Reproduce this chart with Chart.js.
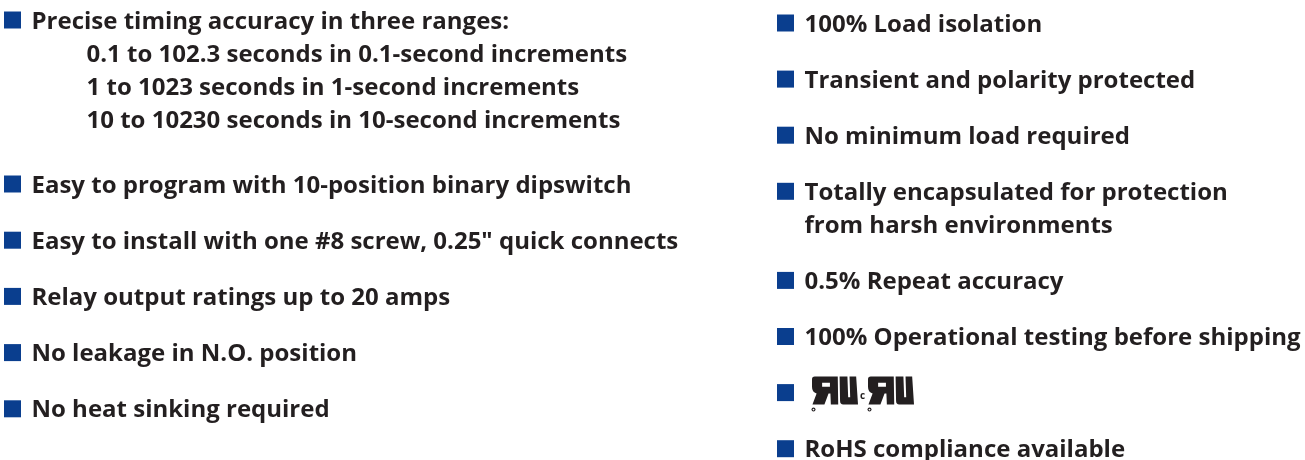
<!DOCTYPE html>
<html>
<head>
<meta charset="utf-8">
<script src="https://cdn.jsdelivr.net/npm/chart.js@4/dist/chart.umd.min.js"></script>
<style>
  html, body { margin: 0; padding: 0; background: #ffffff; }
  #wrap { width: 1305px; height: 460px; }
</style>
</head>
<body>
<div id="wrap"><canvas id="c" width="1305" height="460"></canvas></div>
<script>
// ---- Content (data) ----
const leftFeatures = [
  "Precise timing accuracy in three ranges:",
  "Easy to program with 10-position binary dipswitch",
  "Easy to install with one #8 screw, 0.25\" quick connects",
  "Relay output ratings up to 20 amps",
  "No leakage in N.O. position",
  "No heat sinking required"
];
const timingRanges = [
  "0.1 to 102.3 seconds in 0.1-second increments",
  "1 to 1023 seconds in 1-second increments",
  "10 to 10230 seconds in 10-second increments"
];
const rightFeatures = [
  ["100% Load isolation"],
  ["Transient and polarity protected"],
  ["No minimum load required"],
  ["Totally encapsulated for protection", "from harsh environments"],
  ["0.5% Repeat accuracy"],
  ["100% Operational testing before shipping"],
  null, // UL / cUL recognized component marks
  ["RoHS compliance available"]
];
const certPrefix = ["", "c"];

// ---- Styling / layout ----
const W = 1305, H = 460;
const BLUE = "#0a3e8e";
const INK = "#231f20";
const FONT = '700 24px "Open Sans", "Noto Sans", sans-serif';
const COL_BULLET = [12.5, 785.5];
const TEXT_GAP = 19;
const SUB_INDENT = 74;
const TOPS = [20, 23];         // first bullet centre per column
const ITEM_STEP = [56.2, 56.1];
const LINE_STEP = 33;
const AFTER_SUB = 65;
const BULLET = 17;
const BASE_OFF = 8.5;          // text baseline below bullet centre

// Build layout from content
const bullets = [];
(function layout() {
  let y = TOPS[0];
  leftFeatures.forEach((t, i) => {
    const item = { col: 0, cy: y, lines: [t], sub: [] };
    let last = y;
    if (i === 0) {
      timingRanges.forEach((s, k) => { last = y + (k + 1) * LINE_STEP; item.sub.push({ text: s, cy: last }); });
    }
    bullets.push(item);
    y = item.sub.length ? last + AFTER_SUB : y + ITEM_STEP[0];
  });
  y = TOPS[1];
  rightFeatures.forEach((lines) => {
    bullets.push({ col: 1, cy: y, lines: lines, sub: [] });
    const n = lines ? lines.length : 1;
    y += (n - 1) * LINE_STEP + ITEM_STEP[1];
  });
})();

// UL "recognized component" mark, drawn on a 50x30 grid
function drawUL(ctx, x, y, w, h, prefix) {
  ctx.save();
  ctx.fillStyle = INK;
  if (prefix) {
    ctx.font = '700 10px "Open Sans", sans-serif';
    ctx.fillText(prefix, x - 8, y + h - 6);
  }
  ctx.translate(x, y);
  ctx.scale(w / 50, h / 30);
  // reversed R (heavy)
  ctx.beginPath();
  ctx.moveTo(3, 0); ctx.lineTo(28, 0); ctx.lineTo(28.5, 30); ctx.lineTo(20.5, 30);
  ctx.lineTo(20, 18); ctx.lineTo(18, 18); ctx.lineTo(13.5, 30); ctx.lineTo(0.5, 30);
  ctx.lineTo(5, 18); ctx.quadraticCurveTo(0, 17, 0, 11);
  ctx.lineTo(0, 3); ctx.quadraticCurveTo(0, 0, 3, 0); ctx.closePath();
  ctx.moveTo(11, 6.5); ctx.lineTo(11, 11); ctx.lineTo(19.5, 11); ctx.lineTo(19.5, 6.5); ctx.closePath();
  ctx.fill('evenodd');
  // U (heavy, narrow slot)
  ctx.beginPath();
  ctx.moveTo(30, 0); ctx.lineTo(38.5, 0); ctx.lineTo(39.3, 22); ctx.lineTo(41.5, 22);
  ctx.lineTo(40.8, 0); ctx.lineTo(48, 0); ctx.lineTo(50, 30); ctx.lineTo(34, 30);
  ctx.quadraticCurveTo(30.5, 30, 30.5, 26); ctx.closePath();
  ctx.fill();
  ctx.restore();
  // registered mark
  ctx.save();
  ctx.fillStyle = INK;
  ctx.beginPath(); ctx.arc(x + 1.5, y + h + 5, 2, 0, Math.PI * 2); ctx.fill();
  ctx.fillStyle = '#fff';
  ctx.beginPath(); ctx.arc(x + 1.5, y + h + 5, 0.9, 0, Math.PI * 2); ctx.fill();
  ctx.restore();
}

const textPlugin = {
  id: 'featureText',
  afterDatasetsDraw(chart) {
    const ctx = chart.ctx;
    const meta = chart.getDatasetMeta(0);
    const ys = chart.scales.y;
    ctx.save();
    ctx.fillStyle = INK;
    ctx.font = FONT;
    ctx.textBaseline = 'alphabetic';
    meta.data.forEach((pt, i) => {
      const item = bullets[i];
      const tx = pt.x + TEXT_GAP;
      if (item.lines) {
        item.lines.forEach((ln, k) => ctx.fillText(ln, tx, ys.getPixelForValue(item.cy + k * LINE_STEP) + BASE_OFF));
      } else {
        drawUL(ctx, tx + 7.5, pt.y - 16, 46, 28, certPrefix[0]);
        drawUL(ctx, tx + 63.5, pt.y - 16, 46, 28, certPrefix[1]);
        ctx.fillStyle = INK; ctx.font = FONT;
      }
      item.sub.forEach((s) => ctx.fillText(s.text, pt.x + SUB_INDENT, ys.getPixelForValue(s.cy) + BASE_OFF));
    });
    ctx.restore();
  }
};

function build() {
  new Chart(document.getElementById('c'), {
    type: 'scatter',
    data: {
      datasets: [{
        data: bullets.map(b => ({ x: COL_BULLET[b.col], y: b.cy })),
        pointStyle: 'rect',
        pointRadius: BULLET / Math.SQRT2,
        pointHoverRadius: BULLET / Math.SQRT2,
        backgroundColor: BLUE,
        borderWidth: 0,
        pointBorderWidth: 0
      }]
    },
    options: {
      responsive: false,
      animation: false,
      events: [],
      layout: { padding: 0, autoPadding: false },
      plugins: { legend: { display: false }, tooltip: { enabled: false } },
      scales: {
        x: { type: 'linear', display: false, min: 0, max: W },
        y: { type: 'linear', display: false, min: 0, max: H, reverse: true }
      }
    },
    plugins: [textPlugin]
  });
}
if (document.fonts && document.fonts.load) {
  document.fonts.load(FONT).then(build, build);
} else { build(); }
</script>
</body>
</html>
